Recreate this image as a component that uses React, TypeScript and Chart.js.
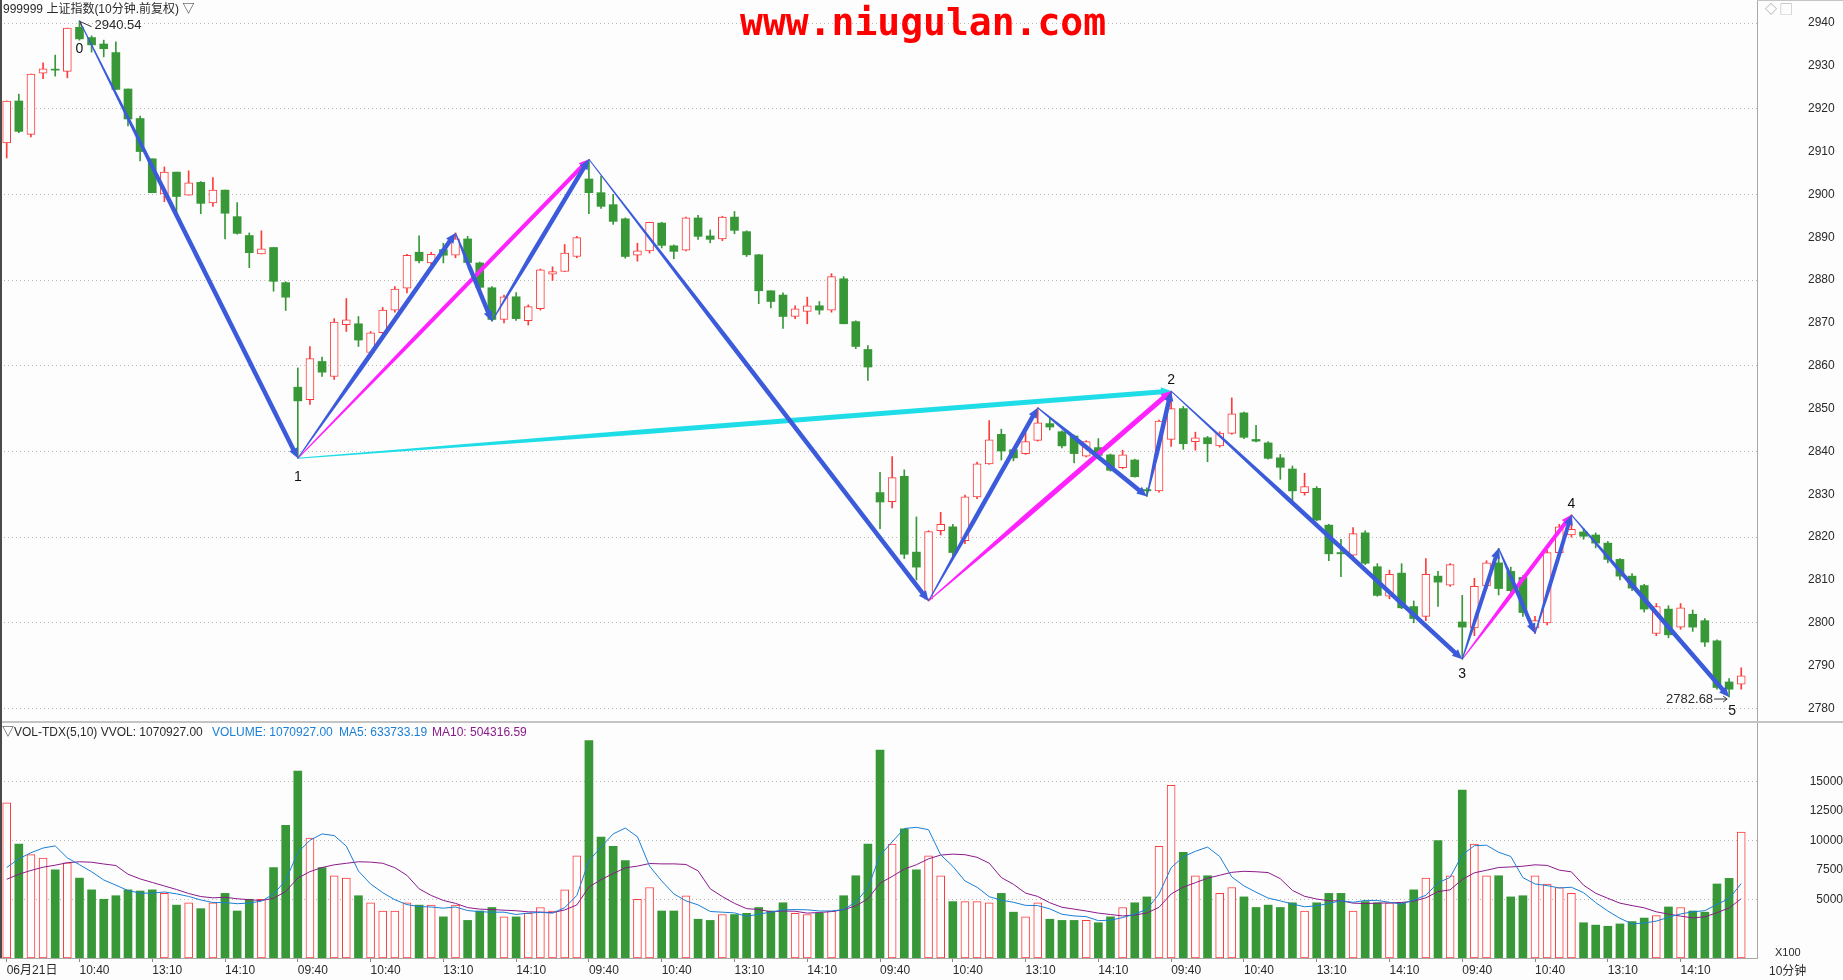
import React, { useEffect, useRef } from "react";
import { Chart, registerables } from "chart.js";
Chart.register(...registerables);

// ---------------- data ----------------
const OPEN = [
  2912.0, 2921.8, 2914.0, 2928.3, 2929.2, 2928.7, 2939.0, 2936.6, 2935.1, 2933.1, 2924.6, 2917.7, 2908.3, 2900.1, 2905.2, 2899.8, 2902.8, 2898.0, 2901.0, 2894.8, 2890.4, 2886.1, 2887.6, 2879.4,
  2855.0, 2852.1, 2861.0, 2857.5, 2869.6, 2869.8, 2863.1, 2867.7, 2873.0, 2878.1, 2886.5, 2884.0, 2887.1, 2885.8, 2889.6, 2884.0, 2878.2, 2870.8, 2876.1, 2870.5, 2873.3, 2881.4, 2882.0, 2885.5,
  2903.6, 2900.4, 2897.6, 2894.3, 2885.8, 2886.8, 2893.3, 2888.0, 2887.0, 2894.5, 2890.3, 2889.6, 2894.7, 2891.3, 2885.9, 2877.5, 2876.5, 2871.5, 2872.7, 2874.0, 2873.0, 2880.3, 2870.3, 2863.8,
  2830.4, 2828.3, 2834.2, 2816.5, 2805.5, 2821.5, 2822.4, 2819.2, 2829.4, 2837.1, 2844.0, 2840.4, 2839.5, 2842.6, 2846.5, 2844.6, 2843.6, 2838.9, 2840.9, 2839.2, 2836.2, 2838.0, 2831.1, 2830.8,
  2842.8, 2850.0, 2842.3, 2843.2, 2841.3, 2844.2, 2849.0, 2842.8, 2842.0, 2838.5, 2835.9, 2830.4, 2831.4, 2822.8, 2816.4, 2815.8, 2821.0, 2813.1, 2806.2, 2811.6, 2803.8, 2801.5, 2810.9, 2808.8,
  2800.2, 2798.8, 2808.6, 2814.0, 2812.0, 2810.6, 2798.8, 2800.0, 2816.4, 2820.5, 2821.2, 2820.5, 2818.6, 2814.8, 2810.9, 2808.7, 2797.5, 2803.2, 2799.0, 2802.0, 2800.5, 2795.8, 2786.2, 2785.7,
];
const HIGH = [
  2921.8, 2923.4, 2928.1, 2930.7, 2932.5, 2938.8, 2940.54, 2937.0, 2936.0, 2935.6, 2924.6, 2918.3, 2908.3, 2906.4, 2905.2, 2905.5, 2903.0, 2903.9, 2901.0, 2898.1, 2891.0, 2891.5, 2887.6, 2879.6,
  2859.5, 2864.5, 2862.0, 2871.0, 2875.7, 2871.5, 2868.0, 2873.6, 2878.5, 2886.0, 2890.3, 2886.5, 2888.6, 2891.0, 2890.2, 2884.2, 2878.5, 2876.5, 2877.1, 2874.2, 2882.6, 2883.1, 2888.3, 2890.2,
  2908.2, 2904.2, 2900.0, 2894.5, 2888.6, 2893.5, 2893.5, 2888.2, 2894.7, 2895.1, 2891.7, 2894.9, 2896.0, 2891.5, 2886.0, 2877.5, 2877.0, 2874.0, 2876.0, 2875.0, 2881.5, 2880.8, 2870.5, 2864.7,
  2835.1, 2838.8, 2835.7, 2824.7, 2821.5, 2825.8, 2823.0, 2829.8, 2837.5, 2847.2, 2845.2, 2840.6, 2844.4, 2850.2, 2847.8, 2844.8, 2843.8, 2842.5, 2843.0, 2839.4, 2840.3, 2838.2, 2831.5, 2847.3,
  2854.1, 2850.5, 2844.5, 2843.5, 2844.6, 2852.5, 2849.2, 2846.1, 2842.3, 2839.3, 2836.6, 2834.9, 2831.8, 2823.0, 2819.5, 2822.2, 2821.5, 2813.8, 2812.3, 2813.8, 2805.1, 2815.0, 2812.0, 2813.8,
  2806.4, 2810.4, 2814.5, 2817.4, 2813.0, 2811.0, 2801.5, 2817.0, 2823.0, 2825.2, 2822.0, 2821.0, 2819.0, 2815.0, 2811.5, 2809.0, 2804.5, 2804.0, 2804.5, 2803.0, 2801.0, 2796.0, 2787.0, 2789.5,
];
const LOW = [
  2908.5, 2914.4, 2913.4, 2927.0, 2927.6, 2927.2, 2936.0, 2933.2, 2932.1, 2924.5, 2916.0, 2907.8, 2900.4, 2898.3, 2894.8, 2899.8, 2895.5, 2897.2, 2889.6, 2890.7, 2882.9, 2886.1, 2877.4, 2872.9,
  2838.4, 2851.0, 2857.5, 2856.8, 2868.0, 2864.5, 2862.0, 2867.0, 2872.5, 2877.0, 2884.0, 2883.5, 2884.0, 2885.2, 2884.0, 2878.0, 2870.4, 2870.0, 2870.6, 2869.5, 2873.0, 2879.9, 2882.0, 2885.2,
  2895.5, 2896.7, 2893.0, 2885.1, 2884.4, 2886.3, 2887.5, 2885.0, 2886.8, 2889.5, 2888.7, 2889.2, 2890.8, 2885.5, 2874.5, 2873.5, 2868.7, 2871.0, 2869.8, 2872.0, 2872.5, 2869.8, 2864.0, 2856.6,
  2822.0, 2826.8, 2815.0, 2810.0, 2805.1, 2820.5, 2815.5, 2818.5, 2829.0, 2837.0, 2838.0, 2837.8, 2839.3, 2842.4, 2845.0, 2840.8, 2837.3, 2838.7, 2839.0, 2835.4, 2836.0, 2834.0, 2829.5, 2830.5,
  2841.2, 2840.5, 2840.3, 2837.6, 2841.0, 2844.0, 2843.0, 2842.2, 2838.2, 2833.5, 2828.4, 2829.8, 2823.8, 2814.5, 2810.8, 2815.5, 2813.6, 2806.2, 2805.6, 2803.3, 2800.0, 2800.5, 2803.8, 2808.5,
  2791.5, 2797.0, 2808.0, 2806.5, 2806.0, 2801.5, 2797.5, 2799.5, 2815.5, 2820.0, 2819.5, 2817.5, 2814.0, 2810.0, 2807.5, 2802.5, 2797.0, 2796.5, 2798.5, 2798.0, 2794.5, 2784.5, 2782.68, 2784.5,
];
const CLOSE = [
  2921.8, 2914.7, 2928.1, 2929.3, 2929.0, 2938.8, 2936.3, 2934.9, 2934.0, 2924.5, 2917.6, 2910.0, 2900.4, 2905.2, 2899.5, 2902.7, 2897.9, 2901.0, 2895.6, 2890.9, 2886.4, 2887.3, 2879.7, 2876.0,
  2851.8, 2861.7, 2858.5, 2870.2, 2870.7, 2866.0, 2867.7, 2873.0, 2877.9, 2885.8, 2884.5, 2886.0, 2885.8, 2889.6, 2884.1, 2878.3, 2870.8, 2876.1, 2871.0, 2873.8, 2882.4, 2882.0, 2886.3, 2889.9,
  2900.4, 2897.2, 2893.7, 2885.5, 2886.8, 2893.5, 2888.1, 2886.7, 2894.5, 2890.2, 2889.5, 2894.7, 2891.6, 2885.9, 2877.5, 2875.0, 2871.5, 2873.3, 2874.0, 2873.0, 2880.8, 2869.8, 2864.5, 2859.7,
  2828.2, 2833.9, 2816.0, 2813.0, 2821.3, 2823.0, 2816.4, 2829.4, 2837.1, 2842.7, 2840.1, 2838.5, 2842.3, 2846.7, 2845.7, 2841.3, 2839.5, 2842.3, 2839.1, 2835.6, 2839.2, 2834.1, 2830.8, 2847.1,
  2850.0, 2841.8, 2843.2, 2841.8, 2844.3, 2848.8, 2843.3, 2842.4, 2838.4, 2836.3, 2830.8, 2831.8, 2824.0, 2816.1, 2816.1, 2820.8, 2813.9, 2806.4, 2811.3, 2803.5, 2801.0, 2811.3, 2809.5, 2813.6,
  2799.0, 2808.5, 2814.0, 2808.0, 2807.5, 2802.4, 2800.5, 2816.4, 2822.4, 2821.8, 2820.2, 2818.6, 2814.8, 2810.9, 2808.1, 2803.2, 2803.8, 2797.2, 2803.5, 2799.0, 2795.5, 2784.9, 2784.5, 2787.6,
];
// volume in units of 100
const VOLUME = [
  13200, 9700, 8800, 8500, 7500, 8100, 6800, 5800, 5000, 5300, 5800, 5700, 5800, 5500, 4500, 4700, 4200, 4700, 5500, 4000, 5000, 5000, 7700, 11300,
  15900, 10200, 7700, 7000, 6800, 5300, 4700, 4000, 4000, 4700, 4500, 4500, 3500, 4500, 3200, 4000, 4300, 3500, 3500, 3800, 4300, 4000, 5800, 8700,
  18500, 10300, 9500, 8300, 5000, 6000, 4000, 4000, 5300, 3300, 3200, 3700, 3700, 3800, 4300, 4000, 4700, 3800, 3700, 3800, 4000, 5300, 7000, 9700,
  17700, 9700, 11000, 7500, 8700, 7000, 4800, 4800, 4800, 4700, 5500, 3900, 3500, 4700, 3300, 3200, 3200, 3200, 3000, 3500, 4300, 4700, 5200, 9500,
  14700, 9000, 7000, 7000, 5500, 6000, 5200, 4300, 4500, 4300, 4700, 4000, 4700, 5500, 5500, 4000, 4800, 4700, 4700, 4700, 5800, 6800, 10000, 7000,
  14300, 9700, 7000, 7000, 5200, 5300, 7000, 6300, 6000, 5500, 3000, 2800, 2700, 2900, 3100, 3400, 3600, 4345, 4300, 4000, 3900, 6300, 6778, 10709,
];
// volumes of the bars just before the window (only feed the moving averages)
const PRIOR_VOLUME = [5400, 5600, 5700, 5800, 6000, 6000, 6200, 6500, 6600];

const BARS_PER_DAY = 24;
const DAYS = 6;
const SESSION_TICKS = [0, 6, 12, 18];
const SESSION_TICK_LABELS = ["09:40", "10:40", "13:10", "14:10"];
const FIRST_TICK_LABEL = "06月21日";
const PRICE_TICKS = [2780, 2790, 2800, 2810, 2820, 2830, 2840, 2850, 2860, 2870, 2880, 2890, 2900, 2910, 2920, 2930, 2940];
const PRICE_GRID_STEP = 20;
const VOLUME_TICKS = [5000, 7500, 10000, 12500, 15000];
const VOLUME_GRID = [5000, 10000, 15000];

// zigzag pivots: bar index, price, label
const PIVOTS = [
  { i: 6, price: 2940.54, label: "0" },
  { i: 24, price: 2838.4, label: "1" },
  { i: 96, price: 2854.1, label: "2" },
  { i: 120, price: 2791.5, label: "3" },
  { i: 129, price: 2825.2, label: "4" },
  { i: 142, price: 2782.68, label: "5" },
];
const BLUE = "#3b5bdb";
const MAGENTA = "#ff22ff";
const CYAN = "#1fdde6";
// arrows: [fromIndex, fromPrice] -> [toIndex, toPrice]
const ARROWS = [
  { from: [6, 2940.54], to: [24, 2838.4], color: BLUE, w: 4.5 },
  { from: [24, 2838.4], to: [96, 2854.1], color: CYAN, w: 5 },
  { from: [24, 2838.4], to: [48, 2908.2], color: MAGENTA, w: 4 },
  { from: [24, 2838.4], to: [37, 2891.0], color: BLUE, w: 4.5 },
  { from: [37, 2891.0], to: [40, 2870.4], color: BLUE, w: 4.5 },
  { from: [40, 2870.4], to: [48, 2908.2], color: BLUE, w: 4.5 },
  { from: [48, 2908.2], to: [76, 2805.1], color: BLUE, w: 4.5 },
  { from: [76, 2805.1], to: [96, 2854.1], color: MAGENTA, w: 5 },
  { from: [76, 2805.1], to: [85, 2850.2], color: BLUE, w: 4.5 },
  { from: [85, 2850.2], to: [94, 2829.5], color: BLUE, w: 4.5 },
  { from: [94, 2829.5], to: [96, 2854.1], color: BLUE, w: 4.5 },
  { from: [96, 2854.1], to: [120, 2791.5], color: BLUE, w: 4.5 },
  { from: [120, 2791.5], to: [129, 2825.2], color: MAGENTA, w: 4 },
  { from: [120, 2791.5], to: [123, 2817.4], color: BLUE, w: 4 },
  { from: [123, 2817.4], to: [126, 2797.5], color: BLUE, w: 4 },
  { from: [126, 2797.5], to: [129, 2825.2], color: BLUE, w: 4 },
  { from: [129, 2825.2], to: [142, 2782.68], color: BLUE, w: 4.5 },
];
const HIGH_MARK = { i: 6, price: 2940.54, text: "2940.54" };
const LOW_MARK = { i: 142, price: 2782.68, text: "2782.68" };

// ---------------- style ----------------
const W = 1843;
const H = 980;
const SPLIT = 722;
const VOL_H = H - SPLIT;
const AXIS_W = 86;
const X_MIN = -0.552;
const X_MAX = 144.3;
const PRICE_MIN = 2776.85;
const PRICE_MAX = 2945.37;
const VOL_MAX = 20085;
const BG = "#fdfdfd";
const RED = "#ff3b3b";
const GREEN = "#389838";
const GRID = "#b8b8b8";
const TEXT = "#2a2a2a";
const FONT = '"Liberation Sans", "Noto Sans CJK SC", sans-serif';
// pixel offsets of pivot numbers from their point
const LABEL_DY: Record<string, number> = { "0": 28, "1": 19, "2": -11, "3": 15, "4": -11, "5": 14 };
const LABEL_DX: Record<string, number> = { "5": 3 };

function movingAverage(vals: number[], prior: number[], n: number) {
  const all = prior.concat(vals);
  const off = prior.length;
  return vals.map((_, i) => {
    const end = off + i;
    let s = 0;
    let c = 0;
    for (let k = end; k > end - n && k >= 0; k--) {
      s += all[k];
      c++;
    }
    return s / c;
  });
}

function drawArrow(ctx: CanvasRenderingContext2D, x0: number, y0: number, x1: number, y1: number, color: string, w1: number) {
  const dx = x1 - x0;
  const dy = y1 - y0;
  const len = Math.hypot(dx, dy);
  if (len < 1) return;
  const ux = dx / len, uy = dy / len;
  const nx = -uy, ny = ux;
  const headLen = 10;
  const headHalf = 4.5;
  const shaft = Math.max(0, len - headLen * 0.8);
  const taper = Math.min(shaft, Math.max(30, len * 0.4));
  const w0 = 1;
  const P = (d: number, w: number, s: number) => [x0 + ux * d + nx * (w / 2) * s, y0 + uy * d + ny * (w / 2) * s];
  ctx.fillStyle = color;
  ctx.beginPath();
  let p = P(0, w0, 1); ctx.moveTo(p[0], p[1]);
  p = P(taper, w1, 1); ctx.lineTo(p[0], p[1]);
  p = P(shaft, w1, 1); ctx.lineTo(p[0], p[1]);
  p = P(shaft, w1, -1); ctx.lineTo(p[0], p[1]);
  p = P(taper, w1, -1); ctx.lineTo(p[0], p[1]);
  p = P(0, w0, -1); ctx.lineTo(p[0], p[1]);
  ctx.closePath();
  ctx.fill();
  const bx = x1 - ux * headLen, by = y1 - uy * headLen;
  ctx.beginPath();
  ctx.moveTo(x1, y1);
  ctx.lineTo(bx + nx * headHalf, by + ny * headHalf);
  ctx.lineTo(bx - nx * headHalf, by - ny * headHalf);
  ctx.closePath();
  ctx.fill();
}

const zigzagPlugin = {
  id: "zigzag",
  afterDatasetsDraw(chart: any) {
    const { ctx } = chart;
    const xs = chart.scales.x;
    const ys = chart.scales.y;
    ctx.save();
    for (const a of ARROWS) {
      drawArrow(
        ctx,
        xs.getPixelForValue(a.from[0]), ys.getPixelForValue(a.from[1]),
        xs.getPixelForValue(a.to[0]), ys.getPixelForValue(a.to[1]),
        a.color, a.w
      );
    }
    ctx.fillStyle = "#111";
    ctx.font = `14px ${FONT}`;
    ctx.textAlign = "center";
    ctx.textBaseline = "middle";
    for (const p of PIVOTS) {
      const px = xs.getPixelForValue(p.i);
      const py = ys.getPixelForValue(p.price);
      ctx.fillText(p.label, px + (LABEL_DX[p.label] || 0), py + (LABEL_DY[p.label] || 0));
    }
    // high / low value marks
    ctx.font = `13px ${FONT}`;
    ctx.fillStyle = TEXT;
    ctx.strokeStyle = "#333";
    ctx.lineWidth = 1;
    {
      const px = xs.getPixelForValue(HIGH_MARK.i);
      const py = ys.getPixelForValue(HIGH_MARK.price);
      ctx.beginPath();
      ctx.moveTo(px + 1, py + 1);
      ctx.lineTo(px + 12, py + 6);
      ctx.moveTo(px + 1, py + 1);
      ctx.lineTo(px + 2, py + 6);
      ctx.stroke();
      ctx.textAlign = "left";
      ctx.fillText(HIGH_MARK.text, px + 15, py + 5);
    }
    {
      const px = xs.getPixelForValue(LOW_MARK.i);
      const py = ys.getPixelForValue(LOW_MARK.price);
      const ty = py + 2;
      ctx.beginPath();
      ctx.moveTo(px - 15, ty);
      ctx.lineTo(px - 2, ty);
      ctx.moveTo(px - 2, ty);
      ctx.lineTo(px - 6, ty - 3);
      ctx.moveTo(px - 2, ty);
      ctx.lineTo(px - 6, ty + 3);
      ctx.stroke();
      ctx.textAlign = "right";
      ctx.fillText(LOW_MARK.text, px - 16, ty);
    }
    ctx.restore();
  },
};

export default function App() {
  const priceRef = useRef<HTMLCanvasElement>(null);
  const volRef = useRef<HTMLCanvasElement>(null);

  useEffect(() => {
    const idx = OPEN.map((_, i) => i);
    const up = idx.map((i) => CLOSE[i] >= OPEN[i]);

    const yAxisFit = (scale: any) => {
      scale.width = AXIS_W;
      scale.paddingTop = 0;
      scale.paddingBottom = 0;
    };

    const priceChart = new Chart(priceRef.current as HTMLCanvasElement, {
      type: "bar",
      data: {
        datasets: [
          {
            label: "body",
            data: idx.map((i) => ({ x: i, y: [OPEN[i], CLOSE[i]] })) as any,
            backgroundColor: idx.map((i) => (up[i] ? BG : GREEN)),
            borderColor: idx.map((i) => (up[i] ? RED : GREEN)),
            borderWidth: idx.map((i) => (up[i] ? 1 : 0)) as any,
            borderSkipped: false,
            barThickness: 8,
            minBarLength: 1,
            grouped: false,
            order: 1,
          } as any,
          {
            label: "wick",
            data: idx.map((i) => ({ x: i, y: [LOW[i], HIGH[i]] })) as any,
            backgroundColor: idx.map((i) => (up[i] ? RED : GREEN)),
            borderWidth: 0,
            barThickness: 1,
            grouped: false,
            order: 2,
          } as any,
        ],
      },
      options: {
        responsive: false,
        animation: false,
        devicePixelRatio: 1,
        layout: { padding: 0 },
        plugins: { legend: { display: false }, tooltip: { enabled: false } },
        scales: {
          x: {
            type: "linear",
            display: false,
            min: X_MIN,
            max: X_MAX,
            offset: false,
          },
          y: {
            type: "linear",
            position: "right",
            min: PRICE_MIN,
            max: PRICE_MAX,
            afterBuildTicks: (s: any) => {
              s.ticks = PRICE_TICKS.map((v) => ({ value: v }));
            },
            afterFit: yAxisFit,
            grid: {
              color: (c: any) => (c.tick && c.tick.value % PRICE_GRID_STEP === 0 ? GRID : "rgba(0,0,0,0)"),
              drawTicks: false,
              lineWidth: 1,
            },
            border: { display: true, color: "#a8a8a8", dash: [1, 3] },
            ticks: {
              color: TEXT,
              font: { size: 12, family: FONT },
              padding: 51,
              crossAlign: "near",
              callback: (v: any) => String(v),
            },
          } as any,
        },
      },
      plugins: [zigzagPlugin],
    });

    const ma5 = movingAverage(VOLUME, PRIOR_VOLUME, 5);
    const ma10 = movingAverage(VOLUME, PRIOR_VOLUME, 10);
    const tickIndex: number[] = [];
    const tickLabel: Record<number, string> = {};
    for (let d = 0; d < DAYS; d++) {
      SESSION_TICKS.forEach((k, j) => {
        const i = d * BARS_PER_DAY + k;
        tickIndex.push(i);
        tickLabel[i] = d === 0 && j === 0 ? FIRST_TICK_LABEL : SESSION_TICK_LABELS[j];
      });
    }

    const volChart = new Chart(volRef.current as HTMLCanvasElement, {
      type: "bar",
      data: {
        datasets: [
          {
            type: "line",
            label: "MA5",
            data: ma5.map((v, i) => ({ x: i, y: v })),
            borderColor: "#1a7fd6",
            borderWidth: 1,
            pointRadius: 0,
            tension: 0,
            order: 0,
          } as any,
          {
            type: "line",
            label: "MA10",
            data: ma10.map((v, i) => ({ x: i, y: v })),
            borderColor: "#8b1a8b",
            borderWidth: 1,
            pointRadius: 0,
            tension: 0,
            order: 0,
          } as any,
          {
            type: "bar",
            label: "VOL",
            data: VOLUME.map((v, i) => ({ x: i, y: v })),
            backgroundColor: idx.map((i) => (up[i] ? BG : GREEN)),
            borderColor: idx.map((i) => (up[i] ? RED : GREEN)),
            borderWidth: idx.map((i) => (up[i] ? 1 : 0)) as any,
            borderSkipped: false,
            barThickness: 8,
            grouped: false,
            order: 1,
          } as any,
        ],
      },
      options: {
        responsive: false,
        animation: false,
        devicePixelRatio: 1,
        layout: { padding: 0 },
        plugins: { legend: { display: false }, tooltip: { enabled: false } },
        scales: {
          x: {
            type: "linear",
            min: X_MIN,
            max: X_MAX,
            offset: false,
            afterBuildTicks: (s: any) => {
              s.ticks = tickIndex.map((v) => ({ value: v }));
            },
            afterFit: (s: any) => {
              s.height = VOL_H - 236;
              s.paddingLeft = 0;
              s.paddingRight = 0;
            },
            grid: {
              drawOnChartArea: false,
              drawTicks: true,
              tickLength: 4,
              tickColor: "#888",
              offset: false,
            },
            border: { display: true, color: "#a8a8a8" },
            ticks: {
              autoSkip: false,
              maxRotation: 0,
              align: "start",
              padding: 1,
              color: TEXT,
              font: { size: 12, family: FONT },
              callback: (v: any) => tickLabel[v] ?? "",
            },
          } as any,
          y: {
            type: "linear",
            position: "right",
            min: 0,
            max: VOL_MAX,
            afterBuildTicks: (s: any) => {
              s.ticks = VOLUME_TICKS.map((v) => ({ value: v }));
            },
            afterFit: yAxisFit,
            grid: {
              color: (c: any) => (c.tick && VOLUME_GRID.includes(c.tick.value) ? GRID : "rgba(0,0,0,0)"),
              drawTicks: false,
            },
            border: { display: true, color: "#a8a8a8", dash: [1, 3] },
            ticks: {
              color: TEXT,
              font: { size: 12, family: FONT },
              padding: 44,
              crossAlign: "far",
              callback: (v: any) => String(v),
            },
          } as any,
        },
      },
    });

    return () => {
      priceChart.destroy();
      volChart.destroy();
    };
  }, []);

  const txt: React.CSSProperties = {
    position: "absolute",
    fontFamily: FONT,
    fontSize: 12,
    lineHeight: "14px",
    whiteSpace: "nowrap",
    color: TEXT,
  };

  return (
    <div style={{ position: "absolute", left: 0, top: 0, width: W, height: H, background: BG, overflow: "hidden" }}>
      <canvas ref={priceRef} width={W} height={SPLIT} style={{ position: "absolute", left: 0, top: 0 }} />
      <canvas ref={volRef} width={W} height={VOL_H} style={{ position: "absolute", left: 0, top: SPLIT }} />
      <div style={{ position: "absolute", left: 0, top: SPLIT - 1, width: W, height: 2, background: "#c4c4c4" }} />
      <div style={{ position: "absolute", left: 0, top: 0, width: 2, height: 958, background: "#4a4a4a" }} />
      <div style={{ position: "absolute", left: 1757, top: 0, width: W - 1757, height: 1, background: "#c4c4c4" }} />
      <div style={{ ...txt, left: 3, top: 2 }}>999999 上证指数(10分钟.前复权) ▽</div>
      <div
        style={{
          position: "absolute",
          left: 740,
          top: 1,
          fontFamily: '"DejaVu Sans Mono", monospace',
          fontWeight: "bold",
          fontSize: 38,
          lineHeight: "42px",
          color: "#ff0000",
          whiteSpace: "nowrap",
        }}
      >
        www.niugulan.com
      </div>
      <div style={{ ...txt, left: 1765, top: 3, color: "#9a9a9a" }}>◇ ▢</div>
      <div style={{ ...txt, left: 2, top: SPLIT + 3 }}>▽VOL-TDX(5,10) VVOL: 1070927.00</div>
      <div style={{ ...txt, left: 212, top: SPLIT + 3, color: "#1a7fd6" }}>VOLUME: 1070927.00</div>
      <div style={{ ...txt, left: 339, top: SPLIT + 3, color: "#1a7fd6" }}>MA5: 633733.19</div>
      <div style={{ ...txt, left: 432, top: SPLIT + 3, color: "#8b1a8b" }}>MA10: 504316.59</div>
      <div style={{ ...txt, left: 1775, top: 945, fontSize: 11 }}>X100</div>
      <div style={{ ...txt, left: 1769, top: 964 }}>10分钟</div>
    </div>
  );
}
